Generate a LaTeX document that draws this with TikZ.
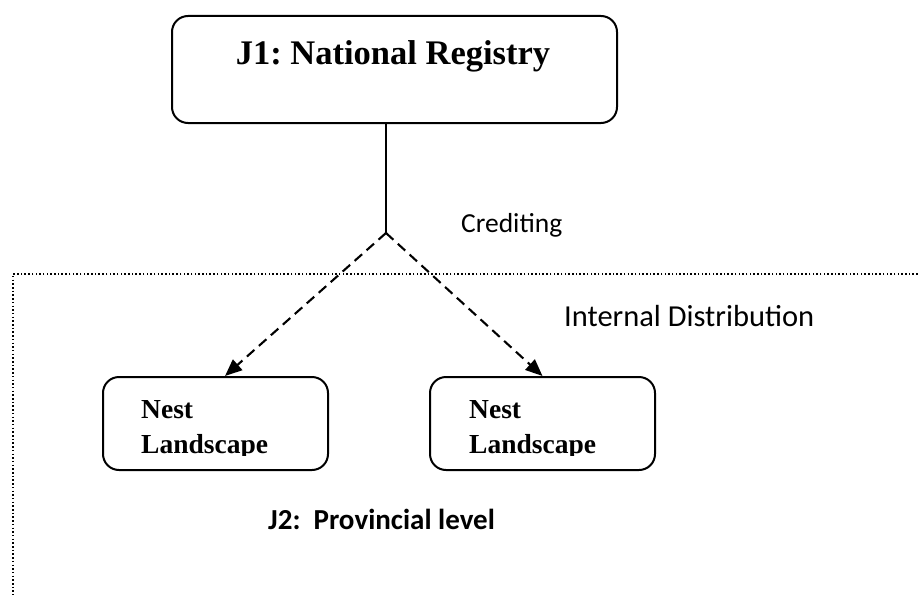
\documentclass[tikz,border=0pt]{standalone}
\usepackage{fontspec}
\setmainfont{Liberation Serif}
\newfontfamily\carlito{Carlito}
\usetikzlibrary{arrows.meta}
\frenchspacing
\begin{document}
\begin{tikzpicture}[x=1pt,y=-1pt,
  boxshape/.style={draw,line width=2pt,rounded corners=16pt,inner sep=0pt},
  serifbold/.style={font=\bfseries\fontsize{27.5}{32}\selectfont,inner sep=0pt,anchor=base west},
  conn/.style={line width=1.8pt},
  dasharrow/.style={line width=2.1pt,dash pattern=on 10pt off 6pt,-{Triangle[length=17pt,width=14pt]}},
  border/.style={line width=1.5pt,dash pattern=on 1.5pt off 2.2pt},
  label/.style={inner sep=0pt,anchor=base west}]
\useasboundingbox (0,0) rectangle (920,594);
% top box
\node[boxshape,minimum width=445pt,minimum height=107pt] (j1) at (394.5,69.5) {};
\node[inner sep=0pt,anchor=base,font=\bfseries\fontsize{34.5}{40}\selectfont] (j1t) at (393,64) {J1: National Registry};
% apex
\coordinate (apex) at (386,233);
\draw[conn] (j1.south -| apex) -- (apex);
\node[label,font=\carlito\fontsize{27.5}{33}\selectfont] (cred) at (461,232) {Crediting};
% dotted region border
\coordinate (dotR) at (925,274);
\coordinate (dotC) at (13,274);
\coordinate (dotB) at (13,600);
\draw[border] (dotR) -- (dotC) -- (dotB);
\node[label,font=\carlito\fontsize{30.5}{36}\selectfont] (intd) at (564,326) {Internal Distribution};
% lower boxes
\node[boxshape,minimum width=225pt,minimum height=93pt] (nest1) at (215.5,423.5) {};
\node[boxshape,minimum width=225pt,minimum height=93pt] (nest2) at (542.5,423.5) {};
\begin{scope}
  \clip (90,380) rectangle (700,455);
  \node[serifbold] (n1a) at (141,418) {Nest};
  \node[serifbold] (n1b) at (141,453) {Landscape};
  \node[serifbold] (n2a) at (469,418) {Nest};
  \node[serifbold] (n2b) at (469,453) {Landscape};
\end{scope}
\draw[dasharrow] (apex) -- ([xshift=9.5pt]nest1.north);
\draw[dasharrow] (apex) -- (nest2.north);
\node[label,font=\carlito\bfseries\fontsize{29}{34}\selectfont] (j2) at (268,529) {J2:\ \ Provincial level};
\end{tikzpicture}
\end{document}
